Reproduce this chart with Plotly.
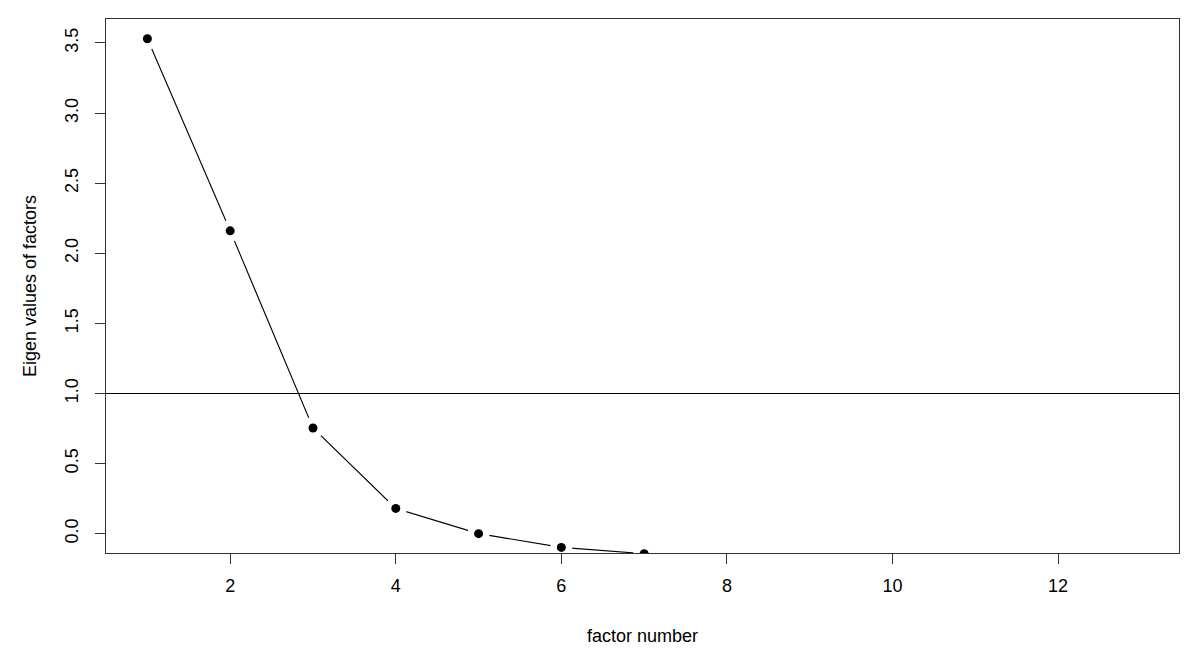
import plotly.graph_objects as go

factor_number = [1, 2, 3, 4, 5, 6, 7]
eigen_values = [3.53, 2.16, 0.754, 0.18, 0.0, -0.098, -0.143]
cutoff = 1.0

x_ticks = [2, 4, 6, 8, 10, 12]
y_ticks = [0.0, 0.5, 1.0, 1.5, 2.0, 2.5, 3.0, 3.5]

font = dict(family="Liberation Sans, Arial", size=18, color="black")

fig = go.Figure()

# line between the points
fig.add_trace(
    go.Scatter(
        x=factor_number,
        y=eigen_values,
        mode="lines",
        line=dict(color="black", width=1.1),
        hoverinfo="skip"
    )
)

# white halo so the line breaks around each point (R type="b")
fig.add_trace(
    go.Scatter(
        x=factor_number,
        y=eigen_values,
        mode="markers",
        marker=dict(color="white", size=22),
        hoverinfo="skip"
    )
)

fig.add_trace(
    go.Scatter(
        x=factor_number,
        y=eigen_values,
        mode="markers",
        marker=dict(color="black", size=9)
    )
)

fig.add_shape(
    type="line",
    xref="paper",
    x0=0,
    x1=1,
    yref="y",
    y0=cutoff,
    y1=cutoff,
    line=dict(color="black", width=1.1)
)

axis_style = dict(
    showgrid=False,
    zeroline=False,
    showline=True,
    mirror=True,
    linecolor="#333333",
    linewidth=1.3,
    ticks="outside",
    ticklen=10,
    tickwidth=1.2,
    tickcolor="#333333",
    tickfont=font,
    title_font=font
)

fig.update_xaxes(
    axis_style,
    range=[0.5, 13.46],
    tickvals=x_ticks,
    ticktext=[str(v) for v in x_ticks],
    ticklabelstandoff=6,
    title_text="factor number",
    title_standoff=34
)

fig.update_yaxes(
    axis_style,
    range=[-0.138, 3.671],
    tickvals=y_ticks,
    ticktext=[f"{v:.1f}" for v in y_ticks],
    tickangle=-90,
    ticklabelstandoff=10,
    title_text="Eigen values of factors",
    title_standoff=20
)

# page body adds an 8px offset, so margins are shifted to compensate
fig.update_layout(
    width=1200,
    height=665,
    margin=dict(l=98, r=29, t=11, b=120),
    plot_bgcolor="white",
    paper_bgcolor="white",
    showlegend=False,
    font=font
)

fig.write_html("out.html")
